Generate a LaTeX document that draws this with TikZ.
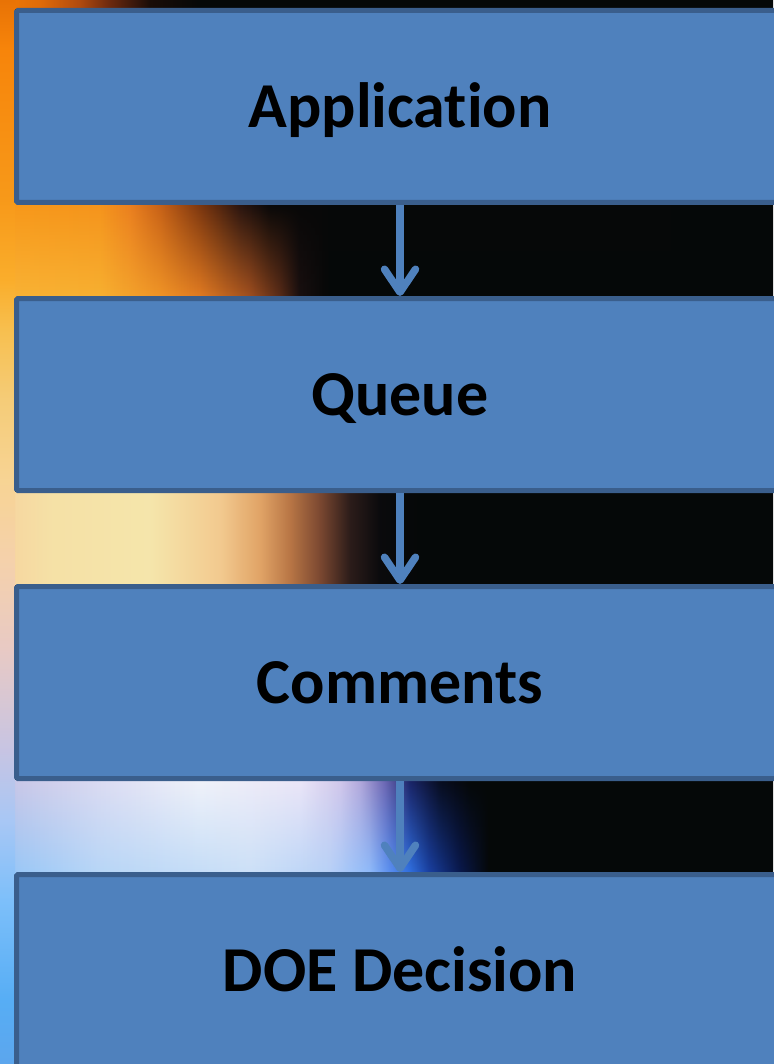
\documentclass[tikz,border=0pt]{standalone}
\usepackage{fontspec}
\setmainfont{Carlito}[Ligatures={NoCommon,NoContextual}]
\usetikzlibrary{arrows.meta,fadings}
\definecolor{boxfill}{HTML}{4F81BD}
\definecolor{boxline}{HTML}{3A5E8C}
\definecolor{bgdark}{HTML}{050808}
\tikzfading[name=fadesouth, top color=transparent!100, bottom color=transparent!0]
\pgfdeclareverticalshading{stripv}{100bp}{
 rgb(0bp)=(0.36,0.65,0.93); rgb(25bp)=(0.36,0.65,0.93);
 rgb(28.01bp)=(0.34,0.68,0.96); rgb(32.71bp)=(0.49,0.75,0.98);
 rgb(36.47bp)=(0.66,0.78,0.96); rgb(39.75bp)=(0.78,0.77,0.89);
 rgb(44.45bp)=(0.91,0.79,0.77); rgb(48.68bp)=(0.96,0.82,0.67);
 rgb(52.44bp)=(0.97,0.83,0.58); rgb(56.20bp)=(0.96,0.80,0.47);
 rgb(59.49bp)=(0.97,0.75,0.31); rgb(61.84bp)=(0.98,0.68,0.17);
 rgb(65.60bp)=(0.97,0.60,0.10); rgb(72.65bp)=(0.97,0.52,0.04);
 rgb(75bp)=(0.91,0.45,0.02); rgb(100bp)=(0.91,0.45,0.02)}
\pgfdeclarehorizontalshading{gtop}{100bp}{
 rgb(0bp)=(0.94,0.48,0.02); rgb(25bp)=(0.94,0.48,0.02);
 rgb(27.59bp)=(0.88,0.42,0.03); rgb(30.17bp)=(0.69,0.29,0.06);
 rgb(32.11bp)=(0.42,0.16,0.06); rgb(34.70bp)=(0.10,0.05,0.03);
 rgb(37.94bp)=(0.02,0.03,0.03); rgb(100bp)=(0.02,0.03,0.03)}
\pgfdeclarehorizontalshading{gonea}{100bp}{
 rgb(0bp)=(0.97,0.60,0.10); rgb(25bp)=(0.97,0.60,0.10);
 rgb(31.47bp)=(0.96,0.58,0.11); rgb(33.41bp)=(0.92,0.50,0.12);
 rgb(35.35bp)=(0.78,0.38,0.09); rgb(37.94bp)=(0.48,0.21,0.06);
 rgb(40.52bp)=(0.16,0.08,0.06); rgb(42.46bp)=(0.03,0.03,0.03);
 rgb(100bp)=(0.02,0.03,0.03)}
\pgfdeclarehorizontalshading{goneb}{100bp}{
 rgb(0bp)=(0.98,0.70,0.21); rgb(25bp)=(0.98,0.70,0.21);
 rgb(31.47bp)=(0.97,0.69,0.19); rgb(35.35bp)=(0.94,0.58,0.15);
 rgb(37.94bp)=(0.88,0.48,0.13); rgb(41.17bp)=(0.63,0.31,0.12);
 rgb(43.11bp)=(0.35,0.17,0.09); rgb(44.40bp)=(0.10,0.06,0.06);
 rgb(46.34bp)=(0.02,0.03,0.03); rgb(100bp)=(0.02,0.03,0.03)}
\pgfdeclarehorizontalshading{gtwo}{100bp}{
 rgb(0bp)=(0.97,0.83,0.62); rgb(25bp)=(0.97,0.83,0.62);
 rgb(28.23bp)=(0.96,0.88,0.65); rgb(34.70bp)=(0.96,0.90,0.67);
 rgb(39.23bp)=(0.95,0.79,0.56); rgb(41.82bp)=(0.88,0.64,0.40);
 rgb(43.76bp)=(0.72,0.46,0.27); rgb(45.70bp)=(0.48,0.28,0.19);
 rgb(47.64bp)=(0.17,0.11,0.10); rgb(49.58bp)=(0.04,0.04,0.05);
 rgb(52.17bp)=(0.02,0.03,0.03); rgb(100bp)=(0.02,0.03,0.03)}
\pgfdeclarehorizontalshading{gthreea}{100bp}{
 rgb(0bp)=(0.78,0.77,0.90); rgb(25bp)=(0.78,0.77,0.90);
 rgb(31.47bp)=(0.86,0.86,0.95); rgb(37.94bp)=(0.94,0.95,0.98);
 rgb(44.40bp)=(0.92,0.90,0.97); rgb(46.99bp)=(0.82,0.78,0.92);
 rgb(48.28bp)=(0.70,0.66,0.86); rgb(49.90bp)=(0.42,0.40,0.70);
 rgb(51.52bp)=(0.10,0.14,0.40); rgb(53.46bp)=(0.03,0.05,0.12);
 rgb(55.40bp)=(0.02,0.03,0.03); rgb(100bp)=(0.02,0.03,0.03)}
\pgfdeclarehorizontalshading{gthreeb}{100bp}{
 rgb(0bp)=(0.58,0.77,0.97); rgb(25bp)=(0.58,0.77,0.97);
 rgb(31.47bp)=(0.72,0.84,0.97); rgb(41.17bp)=(0.80,0.88,0.97);
 rgb(46.34bp)=(0.72,0.82,0.97); rgb(48.93bp)=(0.56,0.73,0.98);
 rgb(50.23bp)=(0.35,0.56,0.94); rgb(51.52bp)=(0.19,0.44,0.88);
 rgb(52.81bp)=(0.10,0.25,0.63); rgb(54.75bp)=(0.04,0.10,0.31);
 rgb(56.69bp)=(0.02,0.03,0.03); rgb(100bp)=(0.02,0.03,0.03)}
\begin{document}
\begin{tikzpicture}[x=1pt,y=-1pt,
  stagebox/.style={draw=boxline, fill=boxfill, line width=5pt, rounded corners=1.5pt,
    minimum width=767pt, minimum height=192pt, inner sep=0pt,
    font=\fontsize{64}{70}\selectfont\bfseries, text height=42pt, text depth=0pt},
  flow/.style={draw=boxfill, line width=7.5pt, -{Straight Barb[length=23pt,width=31pt,round]}}]
\useasboundingbox (0,0) rectangle (773,1064);
\fill[bgdark] (0,0) rectangle (773,1064);
\shade[shading=gtop] (0,0) rectangle (773,9);
\shade[shading=gonea] (0,204) rectangle (773,297);
\shade[shading=goneb, path fading=fadesouth] (0,204) rectangle (773,297);
\shade[shading=gtwo] (0,492) rectangle (773,584);
\shade[shading=gthreea] (0,780) rectangle (773,873);
\shade[shading=gthreeb, path fading=fadesouth] (0,780) rectangle (773,873);
\shade[shading=stripv] (0,0) rectangle (15,1064);
\node[stagebox] (app) at (400,106.5) {Application};
\node[stagebox] (queue) at (400,394.5) {Queue};
\node[stagebox] (comm) at (400,682.5) {Comments};
\node[stagebox] (doe) at (400,970.5) {DOE Decision};
\draw[flow] (app.south) -- (queue.north);
\draw[flow] (queue.south) -- (comm.north);
\draw[flow] (comm.south) -- (doe.north);
\end{tikzpicture}
\end{document}
